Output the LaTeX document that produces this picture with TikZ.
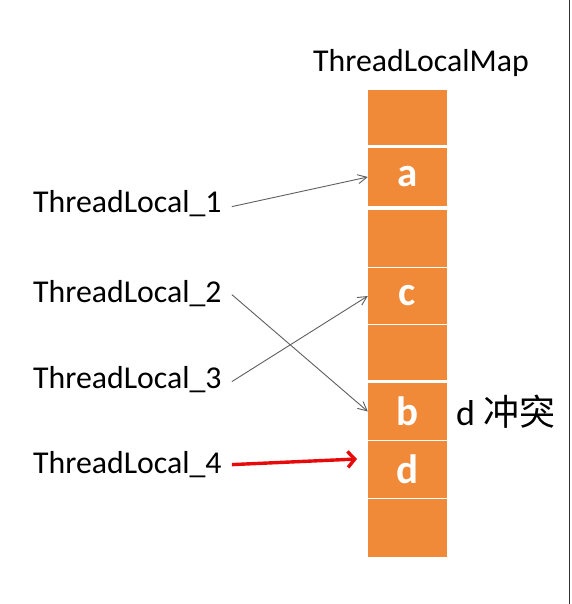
\documentclass[tikz,border=0pt]{standalone}
\usepackage{fontspec}
\setmainfont{Carlito}
\newfontfamily\cjk{Noto Sans CJK SC}
\usetikzlibrary{arrows.meta}
\definecolor{cellorange}{RGB}{240,137,56}
\definecolor{arrgray}{RGB}{95,95,95}
\definecolor{arrred}{RGB}{232,10,10}
\begin{document}
\begin{tikzpicture}[x=1pt,y=-1pt,
  cell/.style={fill=cellorange, draw=none, minimum width=79pt, inner sep=0pt,
    text=white, font=\fontsize{41}{41}\selectfont\bfseries},
  lbl/.style={anchor=base west, inner sep=0pt, font=\fontsize{31.8}{32}\selectfont},
  arr/.style={draw=arrgray, line width=0.9pt, -{Straight Barb[length=9pt,width=9pt]}},
  redarr/.style={draw=arrred, line width=3.4pt, -{Straight Barb[length=7pt,width=16pt]}}]
\useasboundingbox (0,0) rectangle (571,604);
\fill[white] (0,0) rectangle (571,604);
\draw[line width=1.4pt, black!80] (569.5,0) -- (569.5,604);

\node[lbl] (title) at (313,72) {ThreadLocalMap};

\node[cell, minimum height=55pt] (c1) at (407.5,117.5) {};
\node[cell, minimum height=58pt] (c2) at (407.5,177) {a};
\node[cell, minimum height=57pt] (c3) at (407.5,238.5) {};
\node[cell, minimum height=56pt] (c4) at (407.5,296) {c};
\node[cell, minimum height=55pt] (c5) at (407.5,352.5) {};
\node[cell, minimum height=57pt] (c6) at (407.5,411.5) {b};
\node[cell, minimum height=57pt] (c7) at (407.5,469.5) {d};
\node[cell, minimum height=58pt] (c8) at (407.5,528) {};

\node[lbl] (t1) at (33,212) {ThreadLocal\_1};
\node[lbl] (t2) at (33,302) {ThreadLocal\_2};
\node[lbl] (t3) at (33,388) {ThreadLocal\_3};
\node[lbl] (t4) at (33,473) {ThreadLocal\_4};

\node[lbl, font=\fontsize{36}{36}\selectfont] (conf) at (456,425) {d {\cjk 冲突}};

\coordinate (r4) at (357,459);

\draw[arr] ([xshift=10pt,yshift=3pt]t1.mid east) -- (c2.west);
\draw[arr] ([xshift=10pt,yshift=5pt]t2.mid east) -- (c6.west);
\draw[arr] ([xshift=10pt,yshift=4pt]t3.mid east) -- (c4.west);
\draw[redarr] ([xshift=10pt,yshift=6pt]t4.mid east) -- (r4);
\end{tikzpicture}
\end{document}
